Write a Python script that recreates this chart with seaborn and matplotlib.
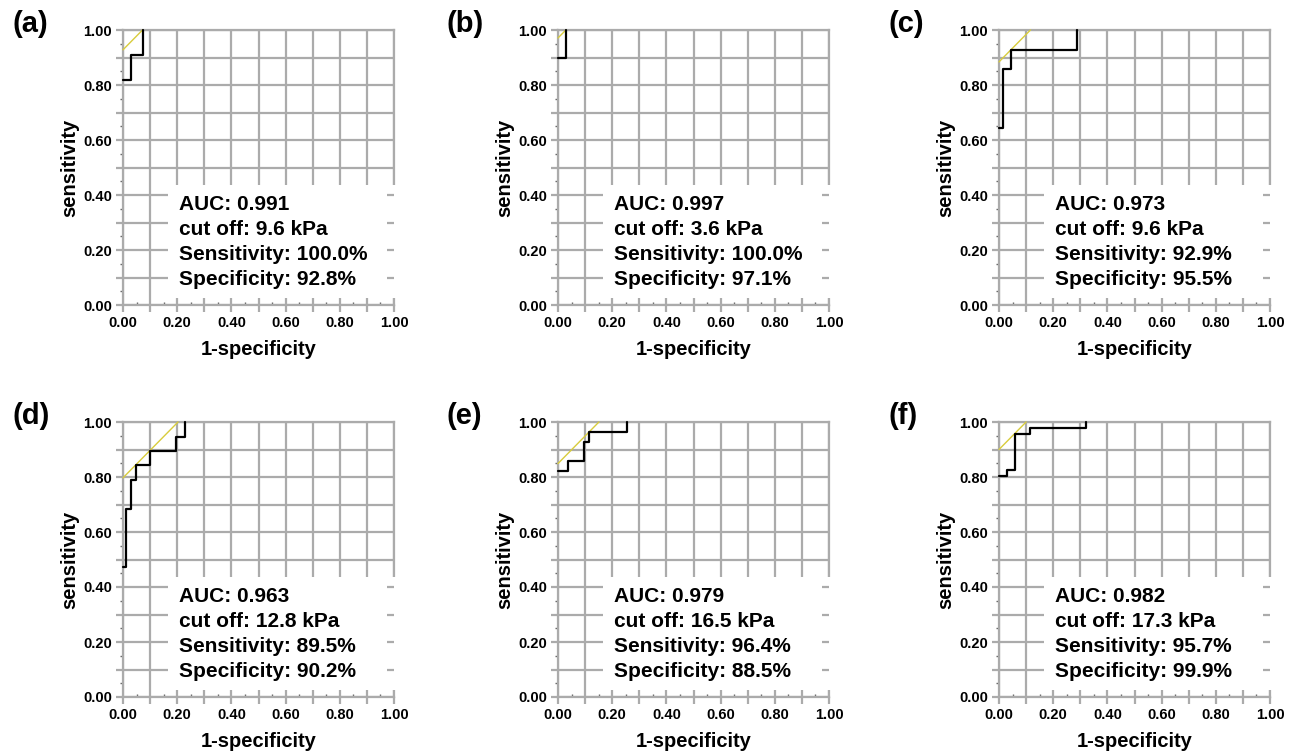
#!/usr/bin/env python3

import matplotlib
matplotlib.use("Agg")
import matplotlib.pyplot as plt
from matplotlib.patches import Rectangle
from matplotlib.ticker import MultipleLocator
import pandas as pd
import seaborn as sns

# ROC corner points (1-specificity, sensitivity), drawn as post steps
panels = ["(a)", "(b)", "(c)", "(d)", "(e)", "(f)"]
fpr = [
    [0.0, 0.028, 0.072],
    [0.0, 0.029],
    [0.0, 0.014, 0.045, 0.288],
    [0.0, 0.012, 0.031, 0.047, 0.098, 0.197, 0.228],
    [0.0, 0.038, 0.096, 0.115, 0.255],
    [0.0, 0.029, 0.059, 0.116, 0.322],
]
tpr = [
    [0.818, 0.909, 1.0],
    [0.900, 1.0],
    [0.643, 0.857, 0.929, 1.0],
    [0.474, 0.684, 0.789, 0.842, 0.895, 0.947, 1.0],
    [0.821, 0.857, 0.929, 0.964, 1.0],
    [0.802, 0.827, 0.957, 0.978, 1.0],
]
# yellow tangent line: sensitivity = (1-specificity) + intercept
youden = [0.928, 0.971, 0.884, 0.797, 0.849, 0.900]
auc = ["0.991", "0.997", "0.973", "0.963", "0.979", "0.982"]
cutoff = ["9.6", "3.6", "9.6", "12.8", "16.5", "17.3"]
sens = ["100.0", "100.0", "92.9", "89.5", "96.4", "95.7"]
spec = ["92.8", "97.1", "95.5", "90.2", "88.5", "99.9"]

sns.set_theme(style="whitegrid")
plt.rcParams["font.family"] = ["Liberation Sans", "DejaVu Sans"]
plt.rcParams["font.weight"] = "bold"
for key in ["text.color", "axes.labelcolor", "xtick.labelcolor", "ytick.labelcolor"]:
    plt.rcParams[key] = "black"

W, H = 1302, 755
fig = plt.figure(figsize=(W / 100, H / 100), dpi=100)

grid_col = "#ababab"
col_x = [123, 558, 999]
row_y = [30, 422]
aw, ah = 271, 275

for i, name in enumerate(panels):
    r, c = divmod(i, 3)
    x0, y0 = col_x[c], row_y[r]
    ax = fig.add_axes([x0 / W, 1 - (y0 + ah) / H, aw / W, ah / H])
    ax.set_facecolor("white")

    roc = pd.DataFrame({"fpr": fpr[i], "tpr": tpr[i]})
    b = youden[i]
    tangent = pd.DataFrame({"fpr": [0.0, 1.0 - b], "tpr": [b, 1.0]})

    sns.lineplot(data=tangent, x="fpr", y="tpr", ax=ax, color="#d8cc3c",
                 lw=1.0, sort=False, estimator=None, zorder=4, clip_on=False)
    sns.lineplot(data=roc, x="fpr", y="tpr", ax=ax, color="black",
                 lw=1.6, sort=False, estimator=None, drawstyle="steps-post",
                 zorder=5, clip_on=False)

    ax.set_xlim(0, 1)
    ax.set_ylim(0, 1)
    ax.xaxis.set_major_locator(MultipleLocator(0.1))
    ax.yaxis.set_major_locator(MultipleLocator(0.1))
    ax.xaxis.set_minor_locator(MultipleLocator(0.05))
    ax.yaxis.set_minor_locator(MultipleLocator(0.05))
    ax.set_xticklabels([f"{v:.2f}" if round(v * 10) % 2 == 0 else ""
                        for v in ax.get_xticks()])
    ax.set_yticklabels([f"{v:.2f}" if round(v * 10) % 2 == 0 else ""
                        for v in ax.get_yticks()])
    ax.grid(True, which="major", color=grid_col, lw=1.6)
    ax.grid(False, which="minor")
    ax.tick_params(which="major", length=5, width=1.6, color=grid_col,
                   labelsize=10.5, pad=3, direction="out",
                   labelcolor="black")
    ax.tick_params(axis="y", which="minor", length=2.5, width=1.0,
                   color="#666666", direction="out", left=True)
    ax.tick_params(axis="x", which="minor", length=2.5, width=1.0,
                   color="#666666", direction="in", bottom=True)
    ax.tick_params(axis="y", which="major", left=True)
    ax.tick_params(axis="x", which="major", bottom=True)
    for lab in ax.get_xticklabels() + ax.get_yticklabels():
        lab.set_fontweight("bold")
    for s in ax.spines.values():
        s.set_color(grid_col)
        s.set_linewidth(1.6)

    # white info box covering part of the grid
    ax.add_patch(Rectangle((0.167, 0.025), 0.85, 0.411, facecolor="white",
                           edgecolor="none", zorder=2.6, clip_on=False))
    ax.hlines([0.1, 0.2, 0.3, 0.4], 0.975, 1.0, color=grid_col, lw=1.6,
              zorder=2.7)

    ax.text(0.207, 0.228,
            f"AUC: {auc[i]}\ncut off: {cutoff[i]} kPa\n"
            f"Sensitivity: {sens[i]}%\nSpecificity: {spec[i]}%",
            fontsize=15, fontweight="bold", va="center", ha="left",
            linespacing=1.4, zorder=6, color="black")
    ax.set_xlabel("1-specificity", fontsize=14.5, fontweight="bold",
                  labelpad=7, color="black")
    ax.set_ylabel("sensitivity", fontsize=14.5, fontweight="bold",
                  labelpad=3, color="black")

    fig.text((x0 - 111) / W, 1 - (y0 - 6) / H, name, fontsize=21,
             fontweight="bold", ha="left", va="center", color="black")

fig.savefig("out.png", dpi=100)
